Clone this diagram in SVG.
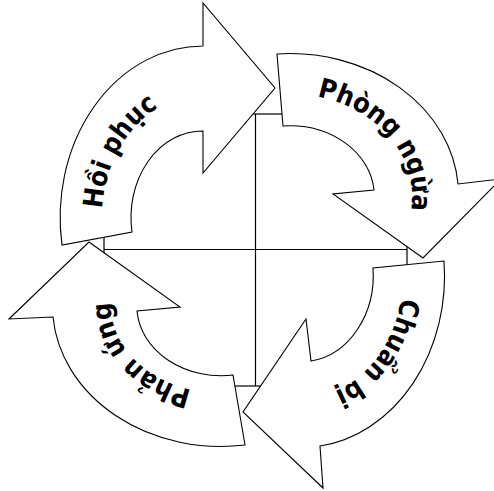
<svg xmlns="http://www.w3.org/2000/svg" width="494" height="491" viewBox="0 0 494 491">
  <style>
    .grid { fill: none; stroke: #000; stroke-width: 1.2; }
    .arrow { fill: #fff; stroke: #000; stroke-width: 1.1; stroke-linejoin: miter; }
    .label { font-family: "DejaVu Sans", Verdana, sans-serif; font-weight: bold; font-stretch: condensed; font-size: 27px; fill: #000; }
  </style>
  <defs>
    <!-- baselines for the curved labels, running clockwise -->
    <path id="arc-hoiphuc" d="M127.9,300.3 A101 123 0 0 1 250.4,109.4"/>
    <path id="arc-phongngua" d="M242.9,101.4 A123 102 0 0 1 371.3,271.8"/>
    <path id="arc-chuanbi" d="M384.7,204.4 A101 123 0 0 1 244.1,375.8"/>
    <path id="arc-phanung" d="M264.0,386.0 A110 88 0 0 1 146.0,240.6"/>
  </defs>

  <!-- central 2x2 grid -->
  <g id="grid">
    <rect class="grid" x="104" y="114" width="303" height="272"/>
    <line class="grid" x1="255.5" y1="114" x2="255.5" y2="386"/>
    <line class="grid" x1="104" y1="249.5" x2="407" y2="249.5"/>
  </g>

  <!-- cycle arrows (each arrow leads into the next) -->
  <g id="connectors">
    <g id="node-hoiphuc">
      <path class="arrow" d="M62,245 A143 171.5 0 0 1 203,46 L203,3 L275,88 L203,173 L203,131 A71.5 86.5 0 0 0 132,232 Z"/>
      <text class="label"><textPath href="#arc-hoiphuc" startOffset="50%" text-anchor="middle">Hồi phục</textPath></text>
    </g>
    <g id="node-phongngua">
      <path class="arrow" d="M277,54 A168.5 141 0 0 1 458,184 L501,179 L423,258 L333,194 L374,190 A84.5 70 0 0 0 283,126 Z"/>
      <text class="label"><textPath href="#arc-phongngua" startOffset="50%" text-anchor="middle">Phòng ngừa</textPath></text>
    </g>
    <g id="node-chuanbi">
      <path class="arrow" d="M444,261 A143 171.5 0 0 1 320,446 L323,488 L243,412 L306,319 L311,361 A71.5 86.5 0 0 0 373,268 Z"/>
      <text class="label"><textPath href="#arc-chuanbi" startOffset="50%" text-anchor="middle">Chuẩn bị</textPath></text>
    </g>
    <g id="node-phanung">
      <path class="arrow" d="M245,445 A168.5 141 0 0 1 53,317 L9,319 L89,242 L180,307 L137,311 A84.5 70 0 0 0 233,375 Z"/>
      <text class="label"><textPath href="#arc-phanung" startOffset="50%" text-anchor="middle">Phản ứng</textPath></text>
    </g>
  </g>
</svg>
